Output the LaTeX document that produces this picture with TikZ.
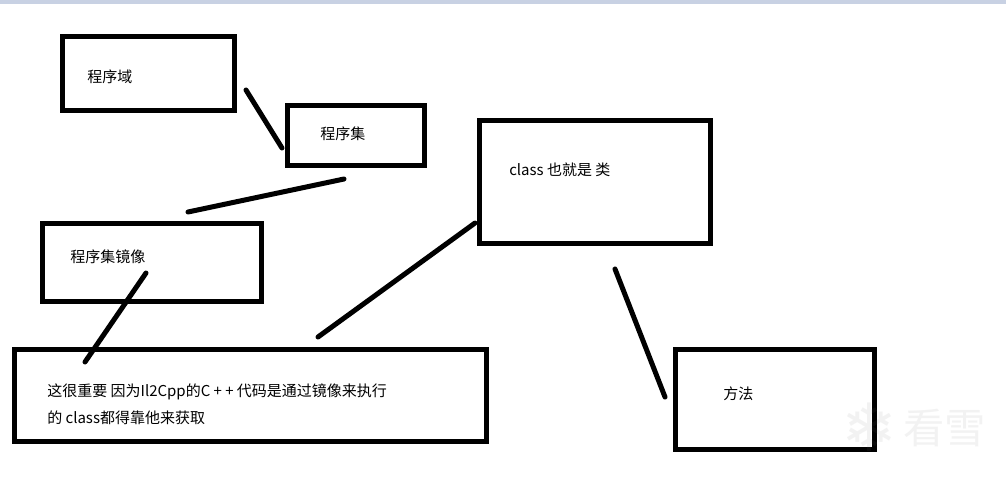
\documentclass[tikz,border=0pt]{standalone}
\usepackage{fontspec}
\setmainfont{Noto Sans CJK SC}
\newfontfamily\wmfont{DejaVu Sans}
\definecolor{topbar}{RGB}{200,209,227}
\definecolor{wm}{RGB}{120,120,120}
\tikzset{
  px/.style={x=0.75pt,y=-0.75pt},
  boxshape/.style={draw=black,line width=3.75pt,inner sep=0pt,outer sep=0pt},
  lbl/.style={anchor=west,inner sep=0pt,font=\fontsize{11.25pt}{13pt}\selectfont,text=black},
  link/.style={draw=black,line width=3.75pt,line cap=round},
  wmark/.style={text=wm,text opacity=0.09,inner sep=0pt}
}
\begin{document}
\begin{tikzpicture}[px]
\useasboundingbox (0,0) rectangle (1006,479);
\fill[white] (0,0) rectangle (1006,479);
\fill[topbar] (0,0) rectangle (1006,4);
% boxes
\node[boxshape,minimum width=172*0.75pt,minimum height=74*0.75pt] (bdom) at (148.5,73.5) {};
\node[boxshape,minimum width=137*0.75pt,minimum height=60*0.75pt] (bset) at (356,135.5) {};
\node[boxshape,minimum width=219*0.75pt,minimum height=78*0.75pt] (bimg) at (152,262.5) {};
\node[boxshape,minimum width=472*0.75pt,minimum height=92*0.75pt] (bnote) at (250.5,395.5) {};
\node[boxshape,minimum width=231*0.75pt,minimum height=123*0.75pt] (bclass) at (595,182) {};
\node[boxshape,minimum width=199*0.75pt,minimum height=100*0.75pt] (bmeth) at (775,399.5) {};
% labels
\node[lbl] (t1) at (87,76.5) {程序域};
\node[lbl] (t2) at (320,133.5) {程序集};
\node[lbl] (t3) at (70,256.5) {程序集镜像};
\node[lbl] (t4) at (47,392) {这很重要 因为Il2Cpp的C\hspace{2.5pt}+\hspace{2.5pt}+\hspace{2.5pt}代码是通过镜像来执行};
\node[lbl] (t5) at (47,418) {的 class都得靠他来获取};
\node[lbl] (t6) at (509,170) {class 也就是 类};
\node[lbl] (t7) at (723,394) {方法};
% connector ends
\coordinate (a1) at (246,90);
\coordinate (a2) at (282,148);
\coordinate (b1) at (344,179);
\coordinate (b2) at (188,212);
\coordinate (c1) at (146,273);
\coordinate (c2) at (85,362);
\coordinate (d1) at (318,337);
\coordinate (d2) at (475,223);
\coordinate (e1) at (615,269);
\coordinate (e2) at (665,397);
\draw[link] (a1) -- (a2);
\draw[link] (b1) -- (b2);
\draw[link] (c1) -- (c2);
\draw[link] (d1) -- (d2);
\draw[link] (e1) -- (e2);
% watermark
\node[wmark,font=\wmfont\fontsize{50pt}{50pt}\selectfont] (wm1) at (869,427) {❄};
\node[wmark,font=\fontsize{31pt}{33pt}\selectfont,anchor=west] (wm2) at (903,428) {看雪};
\end{tikzpicture}
\end{document}
